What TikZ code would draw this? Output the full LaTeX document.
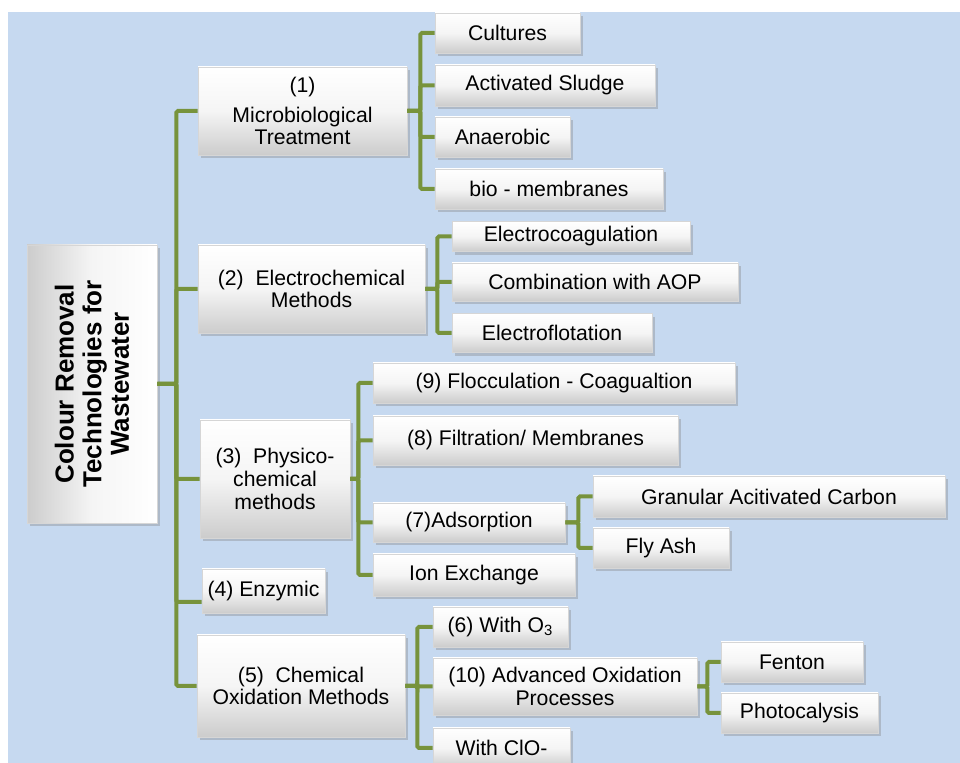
\documentclass[tikz,border=0pt]{standalone}
\usepackage{fontspec}
\setmainfont{Liberation Sans}
\usetikzlibrary{shadows}
\definecolor{crBack}{HTML}{C6D9F0}
\definecolor{crGreen}{HTML}{77933C}
\definecolor{crEdge}{HTML}{D6D6D6}
\tikzset{
  cr box/.style={
    draw=crEdge, line width=.3pt,
    top color=white, bottom color=black!20, middle color=white!96!black,
    drop shadow={shadow xshift=1.6pt, shadow yshift=-1.6pt, opacity=.35},
    inner sep=0pt, align=center,
    font=\fontsize{10.6}{11.3}\selectfont
  },
  cr root/.style={
    cr box, rotate=90,
    left color=black!20, right color=white, middle color=white!96!black,
    font=\fontsize{13}{13.8}\selectfont\bfseries
  },
  cr link/.style={draw=crGreen, line width=2pt, rounded corners=.8pt}
}
\begin{document}
\begin{tikzpicture}[x=.5pt,y=-.5pt]
  \useasboundingbox (0,0) rectangle (960,763);
  \fill[crBack] (8,12) rectangle (960,763);

  \node[cr root, minimum width=139pt, minimum height=65pt] (root) at (92,384)
    {Colour Removal\\Technologies for\\Wastewater};

  \node[cr box, minimum width=104.5pt, minimum height=44pt] (micro) at (302.5,111)
    {(1)\\[3.5pt]Microbiological\\Treatment};
  \node[cr box, minimum width=72.5pt, minimum height=20pt] (cultures) at (507.5,33) {Cultures};
  \node[cr box, minimum width=110pt, minimum height=20.5pt] (sludge) at (545,85.5) {Activated Sludge};
  \node[cr box, minimum width=67.5pt, minimum height=20pt] (anaerobic) at (502.5,137) {Anaerobic};
  \node[cr box, minimum width=114pt, minimum height=20pt] (biomem) at (549,189) {bio - membranes};

  \node[cr box, minimum width=113.5pt, minimum height=44pt] (electro) at (311.5,289)
    {(2)\ \ Electrochemical\\Methods};
  \node[cr box, minimum width=119pt, minimum height=15pt] (ecoag) at (571,236.5) {Electrocoagulation};
  \node[cr box, minimum width=143pt, minimum height=19pt] (ecomb) at (595,282) {Combination with AOP};
  \node[cr box, minimum width=100pt, minimum height=19.5pt] (eflot) at (552,333) {Electroflotation};

  \node[cr box, minimum width=75pt, minimum height=59pt] (physico) at (275,479)
    {(3)\ \ Physico-\\chemical\\methods};
  \node[cr box, minimum width=181pt, minimum height=20pt] (floc) at (554,383) {(9) Flocculation - Coagualtion};
  \node[cr box, minimum width=152.5pt, minimum height=24.5pt] (filt) at (525.5,440.5) {(8) Filtration/ Membranes};
  \node[cr box, minimum width=96pt, minimum height=19.5pt] (adsorp) at (469,522.5) {(7)Adsorption};
  \node[cr box, minimum width=101pt, minimum height=21pt] (ionex) at (474,575) {Ion Exchange};
  \node[cr box, minimum width=176pt, minimum height=20.5pt] (gac) at (769,496.5) {Granular Acitivated Carbon};
  \node[cr box, minimum width=68pt, minimum height=20pt] (flyash) at (661,548) {Fly Ash};

  \node[cr box, minimum width=61.5pt, minimum height=22pt] (enzymic) at (263.5,591) {(4) Enzymic};

  \node[cr box, minimum width=104pt, minimum height=51pt] (chemox) at (301,686)
    {(5)\ \ Chemical\\Oxidation Methods};
  \node[cr box, minimum width=67.5pt, minimum height=20pt] (ozone) at (500.5,627) {(6) With O\textsubscript{3}};
  \node[cr box, minimum width=132pt, minimum height=28.5pt] (aop) at (565,686.5)
    {(10) Advanced Oxidation\\Processes};
  \node[cr box, minimum width=68.5pt, minimum height=20pt] (hypo) at (501.5,748) {With ClO-};
  \node[cr box, minimum width=71pt, minimum height=20pt] (fenton) at (792,662) {Fenton};
  \node[cr box, minimum width=78.5pt, minimum height=20pt] (photo) at (799.5,713) {Photocalysis};

  \coordinate (jroot) at ([xshift=9.5pt]root.south);
  \foreach \n in {micro,electro,physico,chemox}
    \draw[cr link] (root.south) -- (jroot) |- (\n.west);
  \draw[cr link] (jroot) |- ([yshift=-5.5pt]enzymic.west);

  \coordinate (jmicro) at ([xshift=6.5pt]micro.east);
  \foreach \n in {cultures,sludge,anaerobic,biomem}
    \draw[cr link] (micro.east) -- (jmicro) |- (\n.west);

  \coordinate (jelectro) at ([xshift=6pt]electro.east);
  \foreach \n in {ecoag,ecomb,eflot}
    \draw[cr link] (electro.east) -- (jelectro) |- (\n.west);

  \coordinate (jphysico) at ([xshift=4pt]physico.east);
  \foreach \n in {floc,filt,adsorp,ionex}
    \draw[cr link] (physico.east) -- (jphysico) |- (\n.west);

  \coordinate (jadsorp) at ([xshift=6.5pt]adsorp.east);
  \foreach \n in {gac,flyash}
    \draw[cr link] (adsorp.east) -- (jadsorp) |- (\n.west);

  \coordinate (jchemox) at ([xshift=6pt]chemox.east);
  \foreach \n in {ozone,aop,hypo}
    \draw[cr link] (chemox.east) -- (jchemox) |- (\n.west);

  \coordinate (jaop) at ([xshift=5pt]aop.east);
  \foreach \n in {fenton,photo}
    \draw[cr link] (aop.east) -- (jaop) |- (\n.west);
\end{tikzpicture}
\end{document}
